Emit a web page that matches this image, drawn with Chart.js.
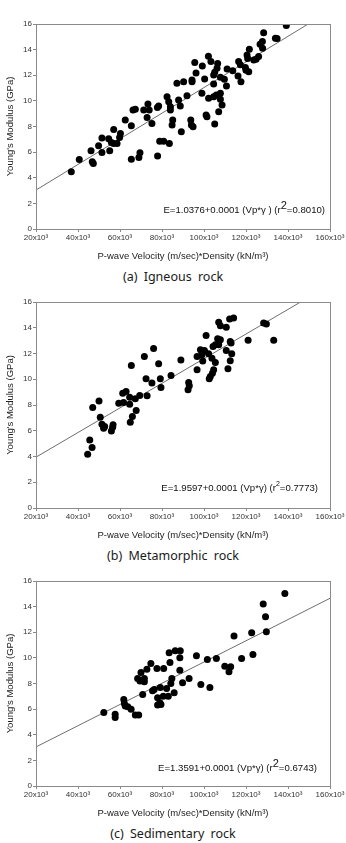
<!DOCTYPE html>
<html>
<head>
<meta charset="utf-8">
<script src="https://cdn.jsdelivr.net/npm/chart.js@4.4.1/dist/chart.umd.min.js"></script>
<style>
body { margin: 0; background: #fff; width: 346px; height: 843px; position: relative; overflow: hidden; }
.panel { position: absolute; left: 0; width: 346px; }
.cap { position: absolute; left: 0; width: 346px; text-align: center; font: 12.5px "Noto Sans", sans-serif; color: #1a1a1a; word-spacing: 3px; line-height: 16px; }
</style>
</head>
<body>
<div class="panel" style="top:0;height:262px"><canvas id="c1"></canvas></div>
<div class="cap" style="top:269px">(a) Igneous rock</div>
<div class="panel" style="top:280px;height:261px"><canvas id="c2"></canvas></div>
<div class="cap" style="top:548px">(b) Metamorphic rock</div>
<div class="panel" style="top:560px;height:259px"><canvas id="c3"></canvas></div>
<div class="cap" style="top:826px">(c) Sedimentary rock</div>
<script>
// x values are in thousands (x10^3), y in GPa
const xTicks = [20, 40, 60, 80, 100, 120, 140, 160];

const igneousX = [139.2,128.4,134.0,134.8,127.8,126.7,127.9,121.6,102.1,103.3,99.2,95.6,106.5,106.2,111.0,116.5,117.3,120.5,120.8,123.7,126.0,124.8,119.7,120.0,121.3,116.2,117.6,113.7,105.1,104.6,107.8,109.7,110.7,100.3,96.2,94.3,94.3,90.3,87.1,91.9,99.0,102.2,104.6,105.9,107.8,107.8,108.6,107.0,104.6,101.0,101.4,105.1,82.4,83.2,84.0,87.9,88.7,84.0,85.1,84.8,89.2,93.7,94.0,94.8,78.4,77.8,73.3,73.9,72.9,71.3,67.3,66.2,75.2,62.5,65.4,57.0,60.2,59.8,51.4,54.6,78.9,80.8,83.5,57.0,58.6,55.9,46.2,49.8,51.4,55.1,40.6,46.8,47.3,36.8,65.4,69.0,69.5,77.9];
const igneousE = [15.88,15.31,14.89,14.87,14.63,14.42,14.11,14.03,13.48,13.07,12.73,12.99,12.91,12.55,12.49,13.07,12.81,13.59,13.30,13.20,13.46,13.25,12.60,12.40,12.28,11.95,11.50,12.36,12.23,12.02,11.84,11.69,11.16,11.71,12.18,11.63,11.50,11.50,11.37,10.40,10.59,10.20,10.33,10.46,10.59,10.12,9.68,9.15,11.32,8.89,8.76,8.19,10.33,9.94,9.55,10.07,9.60,9.29,8.50,8.11,7.59,8.50,8.11,7.98,9.60,9.49,9.75,9.29,8.71,9.29,9.34,9.29,8.24,8.50,8.06,7.77,7.46,7.15,7.10,7.05,6.85,6.85,6.68,6.68,6.68,6.75,6.10,6.49,5.97,6.10,5.43,5.24,5.11,4.46,5.45,5.58,5.95,5.69];
const igneousFitX = [20, 150];
const igneousFitE = [3.04, 16.04];

const metaX = [114.1,112.2,107.0,107.8,110.6,128.4,129.7,121.0,133.2,101.0,106.5,107.8,104.3,105.4,107.0,112.5,112.9,110.6,98.3,100.2,99.0,102.2,103.8,105.4,96.7,99.4,113.2,112.5,111.4,96.7,104.6,104.0,103.0,102.5,89.0,84.3,92.7,93.0,92.4,78.4,76.0,71.6,65.4,72.4,79.2,75.2,79.5,72.9,69.4,67.3,62.9,61.3,64.6,64.6,59.4,61.7,50.0,47.0,67.7,65.9,50.6,51.4,52.7,52.2,56.7,56.5,55.9,64.9,45.6,46.7,44.6];
const metaE = [14.75,14.67,14.42,14.16,14.03,14.36,14.29,13.02,13.02,13.40,13.14,13.07,12.55,12.68,12.68,12.94,12.81,12.24,12.29,12.24,11.90,11.98,11.64,11.30,11.77,11.41,11.98,11.43,10.81,10.73,10.73,10.47,10.21,10.03,11.49,10.29,9.75,9.49,9.18,11.20,12.39,11.77,11.07,10.03,10.03,9.70,9.36,8.71,8.74,8.48,9.05,8.92,8.61,8.06,8.14,8.19,8.32,7.80,7.57,7.10,7.05,6.51,6.33,6.20,6.46,6.27,5.99,6.66,5.29,4.69,4.17];
const metaFitX = [20, 146];
const metaFitE = [3.95, 16];

const sedX = [138.5,128.2,129.3,129.7,122.7,114.3,123.3,117.9,105.9,101.6,96.4,109.9,112.7,111.9,98.5,102.8,92.9,89.8,88.5,88.5,83.4,86.3,88.7,83.8,80.8,77.6,74.7,72.8,70.0,68.4,71.6,69.5,71.6,84.7,84.2,76.3,79.2,82.2,70.8,61.8,77.9,80.6,83.0,85.8,75.5,62.1,62.5,63.7,65.3,52.3,57.7,57.7,67.3,68.9,77.9,79.0,79.5];
const sedE = [15.03,14.20,13.21,12.04,11.96,11.70,10.27,9.95,9.95,9.87,10.16,9.35,9.30,8.91,7.92,7.69,8.39,8.05,9.04,10.01,10.40,10.55,10.55,9.64,9.17,9.17,9.56,9.12,8.86,8.39,8.39,8.20,8.13,8.39,8.00,7.53,7.69,7.61,7.14,6.75,6.88,7.01,7.01,7.27,7.43,6.44,6.25,6.18,5.99,5.73,5.60,5.34,5.55,5.55,6.33,6.49,6.36];
const sedFitX = [20, 160];
const sedFitE = [3.05, 14.65];

const AXIS = '#8a8a8a';
const FONT = '"Liberation Sans", Arial, sans-serif';

const boxPlugin = {
    id: 'box',
    afterDraw(chart) {
        const a = chart.chartArea, c = chart.ctx;
        c.save();
        c.strokeStyle = AXIS;
        c.lineWidth = 1;
        c.strokeRect(Math.round(a.left) + 0.5, Math.round(a.top) + 0.5, Math.round(a.right - a.left), Math.round(a.bottom - a.top));
        c.restore();
    }
};

const eqPlugin = {
    id: 'eq',
    afterDraw(chart, args, opts) {
        const a = chart.chartArea, c = chart.ctx;
        c.save();
        c.fillStyle = '#111';
        c.textBaseline = 'middle';
        const base = '9.6px ' + FONT, sup = opts.supSize + 'px ' + FONT;
        let w = 0;
        opts.parts.forEach(p => { c.font = p.sup ? sup : base; w += c.measureText(p.t).width; });
        let x = a.right - opts.dx - w;
        const y = a.bottom - opts.dy;
        opts.parts.forEach(p => {
            c.font = p.sup ? sup : base;
            c.fillText(p.t, x, p.sup ? y - 4 : y);
            x += c.measureText(p.t).width;
        });
        c.restore();
    }
};

function pts(xs, ys) {
    return xs.map((x, i) => ({ x: x, y: ys[i] }));
}

function makeChart(id, xs, ys, fx, fy, plotTop, plotBottom, canvasH, eq) {
    new Chart(document.getElementById(id), {
        type: 'scatter',
        data: {
            datasets: [{
                data: pts(xs, ys),
                backgroundColor: '#000',
                borderWidth: 0,
                pointRadius: 3.5
            }, {
                type: 'line',
                data: pts(fx, fy),
                borderColor: '#6e6e6e',
                borderWidth: 1,
                pointRadius: 0,
                fill: false
            }]
        },
        options: {
            responsive: true,
            maintainAspectRatio: false,
            animation: false,
            layout: { padding: { top: plotTop, right: 16, left: 0, bottom: 0 } },
            scales: {
                x: {
                    type: 'linear', min: 20, max: 160,
                    afterBuildTicks: s => { s.ticks = xTicks.map(v => ({ value: v })); },
                    afterFit: s => { s.height = canvasH - plotBottom; },
                    ticks: { callback: v => v + 'x10\u00b3', font: { family: FONT, size: 8 }, color: '#333', padding: 1, maxRotation: 0, autoSkip: false },
                    grid: { drawOnChartArea: false, tickLength: 3, color: AXIS },
                    border: { display: false },
                    title: { display: true, text: 'P-wave Velocity (m/sec)*Density (kN/m\u00b3)', font: { family: FONT, size: 9.5 }, color: '#222', padding: 0 }
                },
                y: {
                    min: 0, max: 16,
                    afterFit: s => { s.width = 36; },
                    ticks: { stepSize: 2, font: { family: FONT, size: 8 }, color: '#333', padding: 1 },
                    grid: { drawOnChartArea: false, tickLength: 3, color: AXIS },
                    border: { display: false },
                    title: { display: true, text: "Young's Modulus (GPa)", font: { family: FONT, size: 9.5 }, color: '#222', padding: { top: 5, bottom: 0 } }
                }
            },
            plugins: {
                legend: { display: false },
                tooltip: { enabled: false },
                eq: eq
            }
        },
        plugins: [boxPlugin, eqPlugin]
    });
}

makeChart('c1', igneousX, igneousE, igneousFitX, igneousFitE, 24, 229, 262, {
    parts: [{ t: 'E=1.0376+0.0001 (Vp*\u03b3 ) (r' }, { t: '2', sup: true }, { t: '=0.8010)' }],
    supSize: 11, dx: 5, dy: 19
});
makeChart('c2', metaX, metaE, metaFitX, metaFitE, 22, 228, 261, {
    parts: [{ t: 'E=1.9597+0.0001 (Vp*\u03b3) (r' }, { t: '2', sup: true }, { t: '=0.7773)' }],
    supSize: 7, dx: 12, dy: 20
});
makeChart('c3', sedX, sedE, sedFitX, sedFitE, 21, 226, 259, {
    parts: [{ t: 'E=1.3591+0.0001 (Vp*\u03b3) (r' }, { t: '2', sup: true }, { t: '=0.6743)' }],
    supSize: 11, dx: 13, dy: 18
});
</script>
</body>
</html>
